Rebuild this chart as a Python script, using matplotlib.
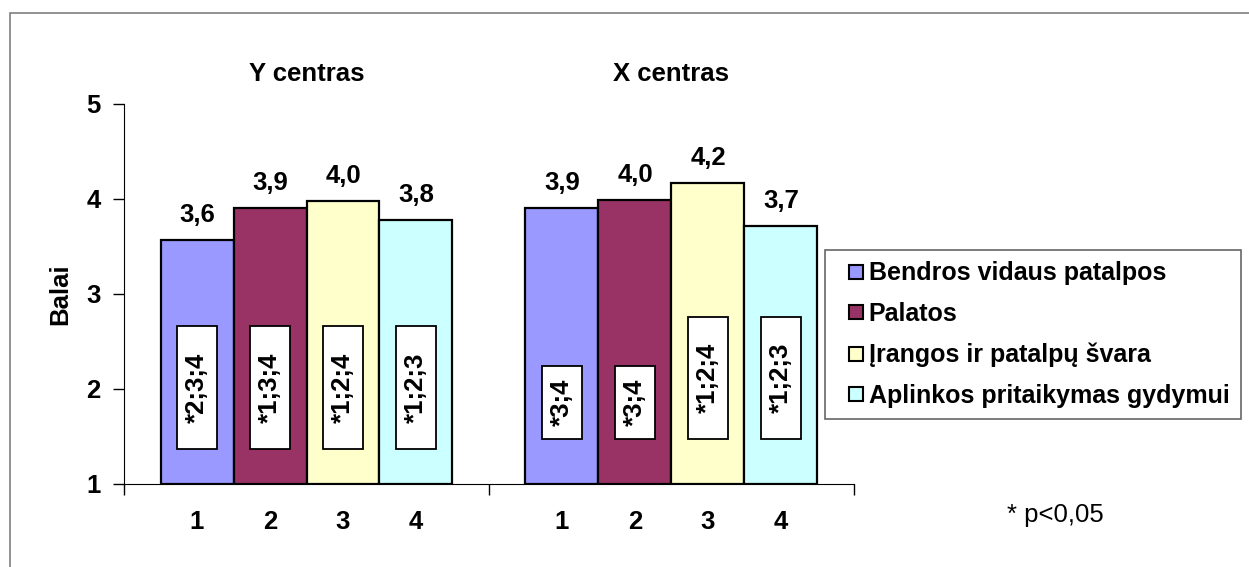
import numpy as np
import matplotlib
matplotlib.use("Agg")
import matplotlib.pyplot as plt
from matplotlib.patches import Rectangle
from matplotlib.lines import Line2D
from matplotlib.transforms import blended_transform_factory

plt.rcParams['font.family'] = ['Liberation Sans', 'DejaVu Sans']

centres = ['Y centras', 'X centras']
series = ['Bendros vidaus patalpos', 'Palatos', 'Įrangos ir patalpų švara',
          'Aplinkos pritaikymas gydymui']
bar_numbers = ['1', '2', '3', '4']
colors = ['#9999FF', '#993366', '#FFFFCC', '#CCFFFF']

# scores per series, one value per centre (Y, X)
values = [
    [3.57, 3.91],
    [3.91, 3.99],
    [3.98, 4.17],
    [3.78, 3.72],
]
value_labels = [
    ['3,6', '3,9'],
    ['3,9', '4,0'],
    ['4,0', '4,2'],
    ['3,8', '3,7'],
]
# significance notes written in white boxes inside the bars
notes = [
    ['*2;3;4', '*3;4'],
    ['*1;3;4', '*3;4'],
    ['*1;2;4', '*1;2;4'],
    ['*1;2;3', '*1;2;3'],
]
note_low = [
    [1.37, 1.47],
    [1.37, 1.47],
    [1.37, 1.47],
    [1.37, 1.47],
]
note_high = [
    [2.66, 2.24],
    [2.66, 2.24],
    [2.66, 2.76],
    [2.66, 2.76],
]

fs = 18.5
fig = plt.figure(figsize=(12.49, 5.67), dpi=100)
ax = fig.add_axes([0.0993, 0.1464, 0.5844, 0.6702])

x = np.arange(len(centres))
w = 0.2
offsets = [-0.3, -0.1, 0.1, 0.3]
minor_pos = []
minor_lab = []
for i, name in enumerate(series):
    pos = x + offsets[i]
    ax.bar(pos, np.array(values[i]) - 1, bottom=1, width=w, color=colors[i],
           edgecolor='black', linewidth=1.6, zorder=2)
    low = np.array(note_low[i])
    high = np.array(note_high[i])
    ax.bar(pos, high - low, bottom=low, width=0.11, color='white',
           edgecolor='black', linewidth=1.3, zorder=3)
    for j in range(len(centres)):
        ax.annotate(value_labels[i][j], (pos[j], values[i][j]), xytext=(0, 9),
                    textcoords='offset points', ha='center', va='bottom',
                    fontsize=fs, fontweight='bold')
        ax.text(pos[j], (low[j] + high[j]) / 2, notes[i][j], rotation=90,
                ha='center', va='center', fontsize=fs, fontweight='bold', zorder=4)
        minor_pos.append(pos[j])
        minor_lab.append(bar_numbers[i])

trans = blended_transform_factory(ax.transData, ax.transAxes)
for j, name in enumerate(centres):
    ax.text(x[j], 1.08, name, transform=trans, ha='center', va='center',
            fontsize=fs, fontweight='bold')

ax.set_xlim(-0.5, 1.5)
ax.set_ylim(1, 5)
ax.set_yticks([1, 2, 3, 4, 5])
ax.set_yticklabels(['1', '2', '3', '4', '5'], fontsize=fs, fontweight='bold')
ax.set_xticks([-0.5, 0.5, 1.5])
ax.set_xticklabels([])
ax.set_xticks(minor_pos, minor_lab, minor=True, fontsize=fs, fontweight='bold')
ax.tick_params(axis='x', which='minor', length=0, pad=19)
ax.tick_params(axis='x', which='major', length=8, width=1, direction='out')
ax.tick_params(axis='y', length=8, width=1, pad=9)
ax.spines['top'].set_visible(False)
ax.spines['right'].set_visible(False)
ax.set_ylabel('Balai', fontsize=fs, fontweight='bold', labelpad=10)

handles = [Line2D([], [], marker='s', linestyle='none', markersize=9.5,
                  markerfacecolor=c, markeredgecolor='black', markeredgewidth=1.5)
           for c in colors]
leg = fig.legend(handles, series, loc='upper left', bbox_to_anchor=(0.6605, 0.559),
                 prop={'weight': 'bold', 'size': 18}, numpoints=1,
                 frameon=True, fancybox=False, handlelength=1.6,
                 handletextpad=-0.3, labelspacing=0.67,
                 borderpad=0.45, borderaxespad=0)
leg.get_frame().set_edgecolor('#404040')
leg.get_frame().set_linewidth(1.2)

fig.text(0.845, 0.092, '* p<0,05', ha='center', va='center', fontsize=fs)

fig.patches.append(Rectangle((0.008, -0.1), 1.2, 1.077, transform=fig.transFigure,
                             fill=False, edgecolor='#7f7f7f', linewidth=1.2))

fig.savefig('out.png', dpi=100)
